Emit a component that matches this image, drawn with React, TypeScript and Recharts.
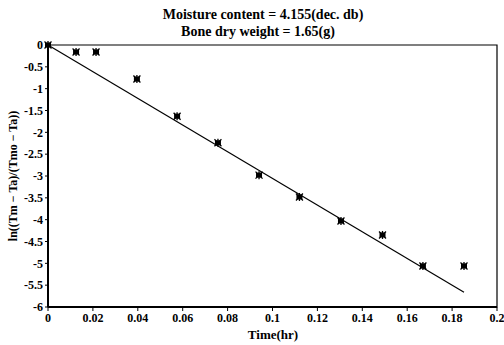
import React from 'react';
import { ComposedChart, Scatter, XAxis, YAxis, ReferenceArea } from 'recharts';

// measured drying points
const timeHr = [0, 0.0125, 0.0214, 0.0396, 0.0575, 0.0757, 0.094, 0.112, 0.1305, 0.149, 0.167, 0.1853];
const lnRatio = [0, -0.16, -0.16, -0.78, -1.63, -2.24, -2.98, -3.48, -4.03, -4.35, -5.06, -5.06];

// regression line ends
const fitTime = [0, 0.1853];
const fitLn = [0, -5.66];

const xTicks = [0, 0.02, 0.04, 0.06, 0.08, 0.1, 0.12, 0.14, 0.16, 0.18, 0.2];
const yTicks = [0, -0.5, -1, -1.5, -2, -2.5, -3, -3.5, -4, -4.5, -5, -5.5, -6];

const points = timeHr.map((x, i) => ({ x, y: lnRatio[i] }));
const fit = fitTime.map((x, i) => ({ x, y: fitLn[i] }));

const font = '"Liberation Serif", "DejaVu Serif", serif';

const Star = (props: any) => {
    const { cx, cy } = props;
    if (cx == null || cy == null) return null;
    return (
        <g stroke="#000" strokeWidth={1.3}>
            <rect x={cx - 3} y={cy - 2.5} width={6} height={5} fill="#000" stroke="none" />
            <line x1={cx - 3.5} y1={cy - 3.5} x2={cx + 3.5} y2={cy + 3.5} />
            <line x1={cx - 3.5} y1={cy + 3.5} x2={cx + 3.5} y2={cy - 3.5} />
            <line x1={cx} y1={cy - 4} x2={cx} y2={cy + 4} />
        </g>
    );
};

const fmt = (v: number) => String(Number(v.toFixed(2)));

const App = () => {
    return (
        <div style={{ position: 'absolute', left: 0, top: 0, width: 504, height: 345, background: '#fff', fontFamily: font }}>
            <ComposedChart width={504} height={345} margin={{ top: 45, right: 7, left: 18, bottom: 18 }}>
                <text x={263} y={19} textAnchor="middle" fontSize={14} fontWeight="bold" fontFamily={font} fill="#000">
                    Moisture content = 4.155(dec. db)
                </text>
                <text x={258} y={36} textAnchor="middle" fontSize={14} fontWeight="bold" fontFamily={font} fill="#000">
                    Bone dry weight = 1.65(g)
                </text>
                <text
                    x={17}
                    y={176}
                    transform="rotate(-90 17 176)"
                    textAnchor="middle"
                    fontSize={12}
                    fontWeight="bold"
                    fontFamily={font}
                    fill="#000"
                >
                    ln((Tm − Ta)/(Tmo − Ta))
                </text>
                <text x={273} y={339} textAnchor="middle" fontSize={13} fontWeight="bold" fontFamily={font} fill="#000">
                    Time(hr)
                </text>
                <XAxis
                    type="number"
                    dataKey="x"
                    domain={[0, 0.2]}
                    ticks={xTicks}
                    tickFormatter={fmt}
                    height={20}
                    axisLine={{ stroke: '#000', strokeWidth: 2 }}
                    tickLine={{ stroke: '#000' }}
                    tickSize={4}
                    tick={{ fill: '#000', fontSize: 12, fontWeight: 'bold', fontFamily: font }}
                    interval={0}
                />
                <YAxis
                    type="number"
                    dataKey="y"
                    domain={[-6, 0]}
                    ticks={yTicks}
                    tickFormatter={fmt}
                    width={30}
                    axisLine={{ stroke: '#000', strokeWidth: 2 }}
                    tickLine={{ stroke: '#000' }}
                    tickSize={3}
                    tick={{ fill: '#000', fontSize: 12, fontWeight: 'bold', fontFamily: font }}
                    interval={0}
                />
                <ReferenceArea x1={0} x2={0.2} y1={-6} y2={0} fill="none" stroke="#000" strokeWidth={1.2} ifOverflow="visible" />
                <Scatter
                    data={fit}
                    line={{ stroke: '#000', strokeWidth: 1.2 }}
                    shape={() => null}
                    isAnimationActive={false}
                />
                <Scatter data={points} shape={Star} isAnimationActive={false} />
            </ComposedChart>
        </div>
    );
};

export default App;
